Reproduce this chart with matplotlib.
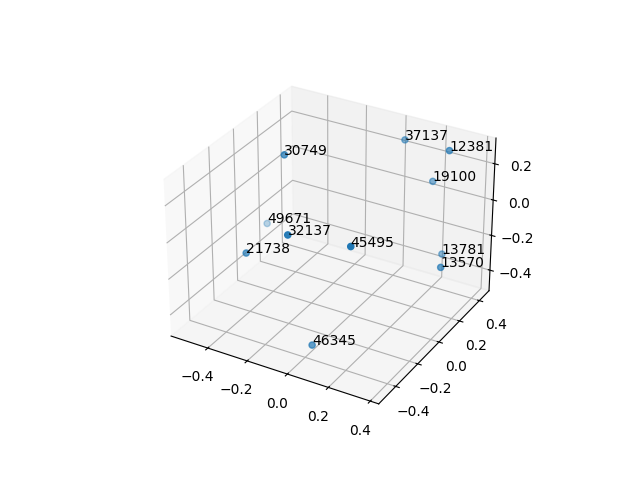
import matplotlib
matplotlib.use("Agg")
import matplotlib.pyplot as plt

# point labels and coordinates
labels = [45495, 32137, 30749, 12381, 21738, 13570, 46345, 37137, 19100, 13781, 49671]
xs = [0.143, -0.117, -0.299, 0.292, -0.356, 0.385, -0.011, 0.059, 0.210, 0.307, -0.477]
ys = [-0.259, -0.337, -0.054, 0.348, -0.290, 0.107, -0.321, 0.379, 0.360, 0.275, 0.083]
zs = [0.059, 0.080, 0.308, 0.304, -0.122, -0.180, -0.503, 0.280, 0.106, -0.225, -0.198]

fig = plt.figure(figsize=(6.4, 4.8), dpi=100)
ax = fig.add_subplot(projection='3d')
ax.scatter(xs, ys, zs)

for x, y, z, lab in zip(xs, ys, zs, labels):
    ax.text(x, y, z, str(lab))

ax.set_xlim(-0.59, 0.44)
ax.set_ylim(-0.55, 0.5)
ax.set_zlim(-0.52, 0.34)

fig.savefig("out.png")
